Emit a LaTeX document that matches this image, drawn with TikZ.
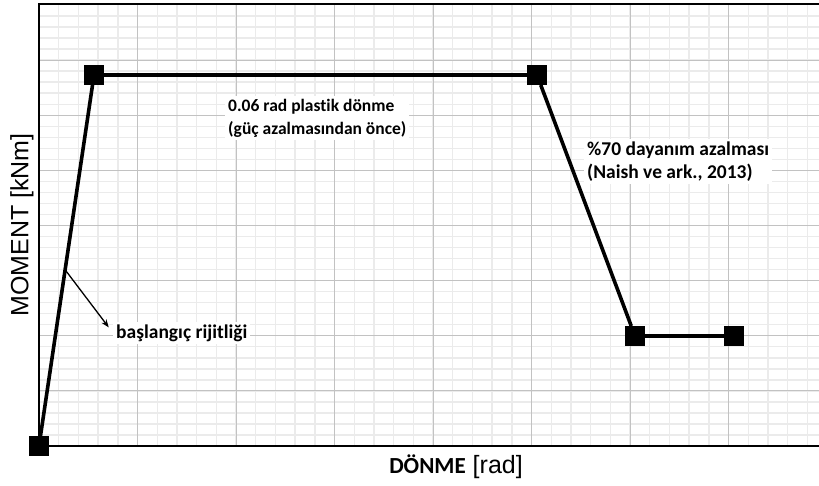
\documentclass[tikz,border=0pt]{standalone}
\usepackage{fontspec}
\setmainfont{Carlito}[Ligatures=CommonOff]
\newfontfamily\arialfont{Liberation Sans}
\usepackage{tikz}
\usepackage{tkz-graph}
\usetikzlibrary{positioning,calc,arrows.meta}

\begin{document}
\begin{tikzpicture}[x=1pt,y=-1pt,
    minorgrid/.style={draw=black!8,line width=1.4pt},
    majorgrid/.style={draw=black!24,line width=1pt},
    plabel/.style={fill=white,inner sep=3pt,align=left,font=\fontsize{17.5}{23}\selectfont\bfseries},
    biglabel/.style={plabel,font=\fontsize{19.5}{22.5}\selectfont\bfseries}]
        \useasboundingbox (0,0) rectangle (819,486);

        % grid
        \foreach \i in {1,...,39}
          \draw[minorgrid] (39+\i*19.7,5) -- (39+\i*19.7,446);
        \foreach \j in {1,...,39}
          \draw[minorgrid] (39,446-\j*11.025) -- (819,446-\j*11.025);
        \foreach \i in {1,...,7}
          \draw[majorgrid] (39+\i*98.5,5) -- (39+\i*98.5,446);
        \foreach \j in {1,...,7}
          \draw[majorgrid] (39,446-\j*55.125) -- (819,446-\j*55.125);

        % frame
        \draw[line width=2pt] (819,4) -- (39,4) -- (39,446) -- (819,446);

        \SetVertexNoLabel
        \tikzset{VertexStyle/.style={shape=rectangle,fill=black,draw=none,
            minimum size=20pt,inner sep=0pt}}
        \tikzset{EdgeStyle/.style={line width=3.6pt,black}}

        \Vertex[x=39,y=446]{P0}
        \Vertex[x=94,y=75]{P1}
        \Vertex[x=537,y=75]{P2}
        \Vertex[x=635,y=336]{P3}
        \Vertex[x=734,y=336]{P4}

        \node[plabel,below right=11pt and 121pt of P1](plastik){0.06 rad plastik dönme\\(güç azalmasından önce)};
        \node[biglabel,below right=54pt and 37pt of P2](azalma){\%70 dayanım azalması\\(Naish ve ark., 2013)};
        \node[biglabel,anchor=west](rijit) at (113,333){başlangıç rijitliği};

        \Edges(P0, P1, P2, P3, P4)

        \coordinate (kink) at ($(P0.center)!0.475!(P1.center)$);
        \draw[line width=1.3pt,-{Stealth[length=8pt,width=6pt]},shorten >=7pt] (kink) -- (rijit.west);

        % axis titles
        \node[rotate=90,font=\arialfont\fontsize{25}{30}\selectfont](ylab) at (22,225){MOMENT [kNm]};
        \node[font=\fontsize{23}{26}\selectfont\bfseries](xlab) at (456,467){DÖNME{\arialfont\mdseries\fontsize{25}{30}\selectfont{} [rad]}};
      \end{tikzpicture}
\end{document}
